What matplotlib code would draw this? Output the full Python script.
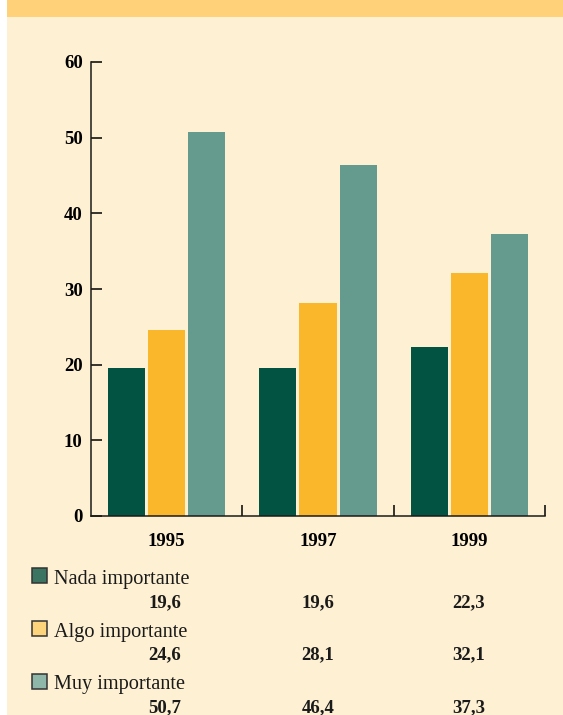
import matplotlib.pyplot as plt
from matplotlib.patches import Rectangle

years = ["1995", "1997", "1999"]
series_names = ["Nada importante", "Algo importante", "Muy importante"]
nada = [19.6, 19.6, 22.3]
algo = [24.6, 28.1, 32.1]
muy = [50.7, 46.4, 37.3]
value_labels = [["19,6", "19,6", "22,3"], ["24,6", "28,1", "32,1"], ["50,7", "46,4", "37,3"]]

bar_colors = ["#025341", "#FBB72C", "#659A8F"]
key_colors = ["#3B7562", "#FDD37B", "#8EB6A9"]
cream = "#FEF0D2"

W, H = 563, 715
plt.rcParams["font.family"] = ["Liberation Serif", "DejaVu Serif"]
plt.rcParams["font.weight"] = "bold"

fig = plt.figure(figsize=(W / 100, H / 100), dpi=100)
fig.patch.set_facecolor("white")


def fx(px):
    return px / W


def fy(py):
    return 1 - py / H


# background panels
fig.patches.append(Rectangle((fx(7), 0), 1 - fx(7), 1, transform=fig.transFigure,
                             facecolor=cream, edgecolor="none", zorder=-2))
fig.patches.append(Rectangle((fx(7), fy(17)), 1 - fx(7), 17 / H, transform=fig.transFigure,
                             facecolor="#FFD27A", edgecolor="none", zorder=-1))

ax = fig.add_axes([fx(91), fy(516), fx(545) - fx(91), (516 - 62) / H])
ax.set_facecolor("none")
ax.set_zorder(2)

x = [0, 1, 2]
w = 0.245
off = 0.265
for i, vals in enumerate([nada, algo, muy]):
    ax.bar([xi + (i - 1) * off for xi in x], vals, width=w, color=bar_colors[i],
           edgecolor="none", zorder=2)

ax.set_xlim(-0.5, 2.5)
ax.set_ylim(0, 60)
ax.set_yticks(range(0, 61, 10))
ax.tick_params(axis="y", direction="in", length=8, width=1.1, pad=6, labelsize=13.5)
ax.set_xticks([0.5, 1.5, 2.5])
ax.set_xticklabels([])
ax.tick_params(axis="x", which="major", direction="in", length=8, width=1.1)
ax.set_xticks(x, minor=True)
ax.set_xticklabels(years, minor=True)
ax.tick_params(axis="x", which="minor", length=0, pad=12, labelsize=13.5)

for s in ["top", "right"]:
    ax.spines[s].set_visible(False)
for s in ["left", "bottom"]:
    ax.spines[s].set_linewidth(1.1)
    ax.spines[s].set_color("#1a1a1a")

# key with values below
key_tops = [568, 621, 674]
name_base = [584, 637, 689]
val_base = [607, 659, 712]
col_x = [165, 318, 469]
for i, name in enumerate(series_names):
    fig.patches.append(Rectangle((fx(32), fy(key_tops[i] + 15)), 15 / W, 15 / H,
                                 transform=fig.transFigure, facecolor=key_colors[i],
                                 edgecolor="#333333", linewidth=1.1, zorder=3))
    fig.text(fx(54), fy(name_base[i]), name, fontsize=14.6, fontweight="normal",
             va="baseline", ha="left", color="#1a1a1a")
    for j in range(3):
        fig.text(fx(col_x[j]), fy(val_base[i]), value_labels[i][j], fontsize=13.5,
                 va="baseline", ha="center", color="#1a1a1a")

fig.savefig("out.png", dpi=100, facecolor=fig.get_facecolor())
